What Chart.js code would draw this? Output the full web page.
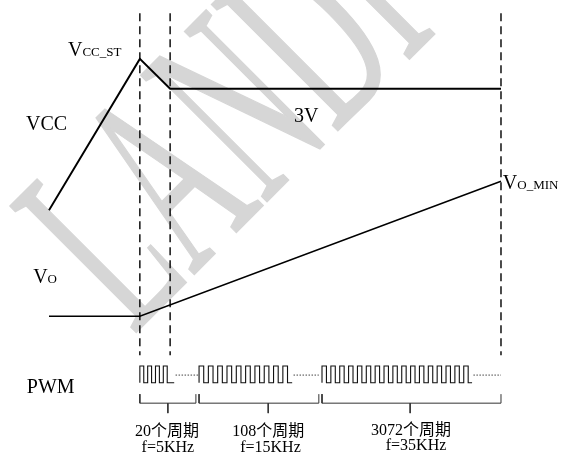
<!DOCTYPE html>
<html>
<head>
<meta charset="utf-8">
<script src="https://cdn.jsdelivr.net/npm/chart.js@4.4.1/dist/chart.umd.min.js"></script>
<style>
  html, body { margin: 0; padding: 0; background: #fff; }
  #wrap { width: 564px; height: 453px; }
</style>
</head>
<body>
<div id="wrap"><canvas id="timing"></canvas></div>
<script>
// time axis: 0 = VCC ramp start, 100 = end marker; level axis: 0..100 diagram units
const vccTime = [0, 20.1, 26.8, 100];
const vccLevel = [53.6, 87.0, 80.4, 80.4];
const voTime = [0, 20.1, 100];
const voLevel = [30.2, 30.2, 60.0];

const markerTimes = [20.1, 26.8, 100];
const markerTop = 97.1;
const markerBottom = 21.6;

// PWM bursts
const pwmStart = [20.1, 33.2, 60.4];
const pwmCycles = [4, 10, 17];
const pwmPeriod = [1.73, 2.06, 1.96];
const pwmEnd = [27.7, 53.8, 93.6];
const gapEnd = [33.0, 59.7, 100];
const pwmHigh = 19.2;
const pwmLow = 15.5;
const gapLevel = 17.2;

// brackets under the bursts
const braceStart = [20.1, 33.2, 60.4];
const braceEnd = [32.5, 59.7, 100];
const braceMid = [26.3, 48.5, 79.9];
const braceTop = 13.0;
const braceBase = 11.0;
const braceTip = 8.8;

const cycleLabels = ["20个周期", "108个周期", "3072个周期"];
const freqLabels = ["f=5KHz", "f=15KHz", "f=35KHz"];
const cycleLabelPos = [26.1, 48.5, 80.1];
const freqLabelPos = [26.3, 49.0, 81.2];
const cycleLabelLevel = [3.75, 3.75, 3.9];
const freqLabelLevel = [0.25, 0.25, 0.6];

// signal names: main text, subscript, time, level
const signalNames = [
  { text: "V", sub: "CC_ST", t: 4.2, v: 87.7 },
  { text: "VCC", sub: "", t: -5.1, v: 71.3 },
  { text: "3V", sub: "", t: 54.2, v: 73.1 },
  { text: "V", sub: "O_MIN", t: 100.4, v: 58.3 },
  { text: "V", sub: "O", t: -3.5, v: 37.5 },
  { text: "PWM", sub: "", t: -4.9, v: 13.2 }
];

const SERIF = '"Liberation Serif", "Times New Roman", "Noto Sans CJK SC", serif';

function zipPoints(xs, ys) {
  return xs.map((x, i) => ({ x: x, y: ys[i] }));
}

function burst(i) {
  const pts = [];
  const p = pwmPeriod[i];
  for (let k = 0; k < pwmCycles[i]; k++) {
    const s = pwmStart[i] + k * p;
    pts.push({ x: s, y: pwmLow });
    pts.push({ x: s, y: pwmHigh });
    pts.push({ x: s + p / 2, y: pwmHigh });
    pts.push({ x: s + p / 2, y: pwmLow });
  }
  pts.push({ x: pwmEnd[i], y: pwmLow });
  return pts;
}

const lineBase = { showLine: true, pointRadius: 0, fill: false, borderColor: "#000", tension: 0 };

const datasets = [];
datasets.push({ ...lineBase, data: zipPoints(vccTime, vccLevel), borderWidth: 1.9 });
datasets.push({ ...lineBase, data: zipPoints(voTime, voLevel), borderWidth: 1.5 });

markerTimes.forEach(t => {
  datasets.push({
    ...lineBase,
    data: [{ x: t, y: markerTop }, { x: t, y: markerBottom }],
    borderWidth: 1.5,
    borderDash: [8, 5],
    borderColor: "#111"
  });
});

pwmStart.forEach((s, i) => {
  datasets.push({ ...lineBase, data: burst(i), borderWidth: 1.1, borderColor: "#111" });
  datasets.push({
    ...lineBase,
    data: [{ x: pwmEnd[i] + 0.3, y: gapLevel }, { x: gapEnd[i], y: gapLevel }],
    borderWidth: 1,
    borderDash: [1.5, 1.5],
    borderColor: "#444"
  });
  datasets.push({
    ...lineBase,
    data: [
      { x: braceStart[i], y: braceTop },
      { x: braceStart[i], y: braceBase },
      { x: braceEnd[i], y: braceBase },
      { x: braceEnd[i], y: braceTop }
    ],
    borderWidth: 1,
    borderColor: "#333"
  });
  datasets.push({
    ...lineBase,
    data: [{ x: braceMid[i], y: braceBase }, { x: braceMid[i], y: braceTip }],
    borderWidth: 1,
    borderColor: "#333"
  });
});

// watermark behind the traces
const watermark = {
  id: "watermark",
  beforeDatasetsDraw(chart) {
    const ctx = chart.ctx;
    ctx.save();
    ctx.translate(chart.width * 0.236, chart.height * 0.74);
    ctx.rotate(-45 * Math.PI / 180);
    ctx.scale(0.51, 1);
    ctx.font = "272px " + SERIF;
    ctx.fillStyle = "#d6d6d6";
    ctx.strokeStyle = "#d6d6d6";
    ctx.lineWidth = 2;
    ctx.textBaseline = "alphabetic";
    ctx.fillText("LANDI", 0, 0);
    ctx.strokeText("LANDI", 0, 0);
    ctx.restore();
  }
};

const textLabels = {
  id: "textLabels",
  afterDatasetsDraw(chart) {
    const ctx = chart.ctx;
    const xs = chart.scales.x;
    const ys = chart.scales.y;
    ctx.save();
    ctx.fillStyle = "#000";
    ctx.textBaseline = "alphabetic";
    signalNames.forEach(n => {
      const px = xs.getPixelForValue(n.t);
      const py = ys.getPixelForValue(n.v);
      ctx.textAlign = "left";
      ctx.font = "20px " + SERIF;
      ctx.fillText(n.text, px, py);
      if (n.sub) {
        const w = ctx.measureText(n.text).width;
        ctx.font = "13px " + SERIF;
        ctx.fillText(n.sub, px + w, py);
      }
    });
    ctx.textAlign = "center";
    ctx.font = "16px " + SERIF;
    cycleLabels.forEach((s, i) => {
      ctx.fillText(s, xs.getPixelForValue(cycleLabelPos[i]), ys.getPixelForValue(cycleLabelLevel[i]));
      ctx.fillText(freqLabels[i], xs.getPixelForValue(freqLabelPos[i]), ys.getPixelForValue(freqLabelLevel[i]));
    });
    ctx.restore();
  }
};

new Chart(document.getElementById("timing").getContext("2d"), {
  type: "scatter",
  data: { datasets: datasets },
  options: {
    animation: false,
    responsive: true,
    maintainAspectRatio: false,
    events: [],
    layout: { padding: 0 },
    plugins: {
      legend: { display: false },
      tooltip: { enabled: false },
      title: { display: false }
    },
    scales: {
      x: { type: "linear", min: -10.84, max: 113.94, display: false },
      y: { type: "linear", min: 0, max: 100, display: false }
    }
  },
  plugins: [watermark, textLabels]
});
</script>
</body>
</html>
